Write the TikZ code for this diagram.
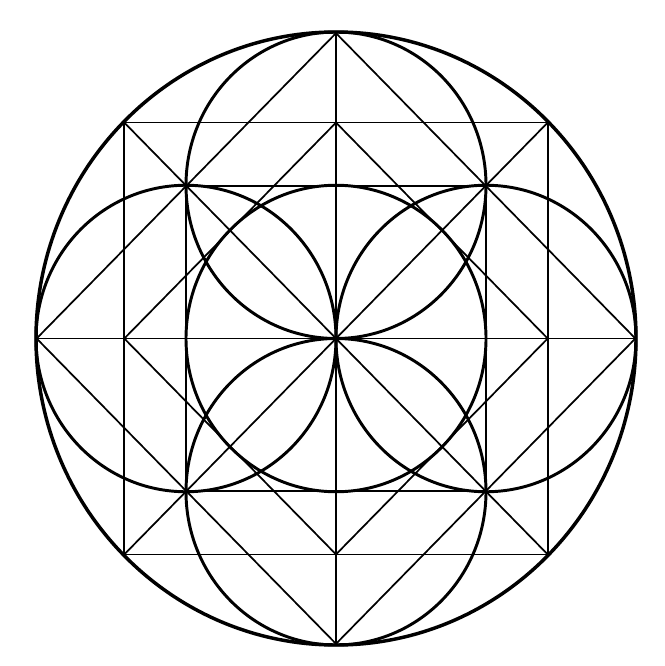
\documentclass[tikz,border=0pt]{standalone}
\begin{document}
\begin{tikzpicture}[x=0.75pt,y=-0.75pt,
  bigring/.style={line width=2.6pt},
  ring/.style={line width=2.2pt},
  thin/.style={line width=1.3pt, line join=miter}]
\fill[white] (0,0) rectangle (664,666);
\useasboundingbox (0,0) rectangle (664,666);
\begin{scope}[shift={(336,338.5)}, xscale=300, yscale=306.5]
  % named points
  \coordinate (O) at (0,0);
  \coordinate (E) at (1,0);
  \coordinate (N) at (0,-1);
  \coordinate (W) at (-1,0);
  \coordinate (S) at (0,1);
  \coordinate (Q1) at (0.7071,-0.7071);
  \coordinate (Q2) at (-0.7071,-0.7071);
  \coordinate (Q3) at (-0.7071,0.7071);
  \coordinate (Q4) at (0.7071,0.7071);
  \coordinate (ME) at (0.7071,0);
  \coordinate (MN) at (0,-0.7071);
  \coordinate (MW) at (-0.7071,0);
  \coordinate (MS) at (0,0.7071);
  \coordinate (P1) at (0.5,-0.5);
  \coordinate (P2) at (-0.5,-0.5);
  \coordinate (P3) at (-0.5,0.5);
  \coordinate (P4) at (0.5,0.5);
  % straight lines
  \draw[thin] (E) -- (N) -- (W) -- (S) -- cycle;
  \draw[thin] (Q1) -- (Q2) -- (Q3) -- (Q4) -- cycle;
  \draw[thin] (ME) -- (MN) -- (MW) -- (MS) -- cycle;
  \draw[thin] (P1) -- (P2) -- (P3) -- (P4) -- cycle;
  \draw[thin] (Q2) -- (Q4);
  \draw[thin] (Q1) -- (Q3);
  \draw[thin] (W) -- (E);
  \draw[thin] (N) -- (S);
  % circles
  \draw[ring] (O) circle [radius=0.5];
  \draw[ring] (0.5,0) circle [radius=0.5];
  \draw[ring] (-0.5,0) circle [radius=0.5];
  \draw[ring] (0,0.5) circle [radius=0.5];
  \draw[ring] (0,-0.5) circle [radius=0.5];
  \draw[bigring] (O) circle [radius=1];
\end{scope}
\end{tikzpicture}
\end{document}
